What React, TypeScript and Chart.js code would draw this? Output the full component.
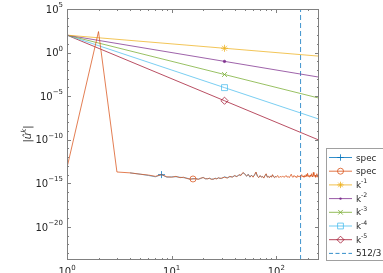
import React, { useEffect, useRef } from 'react';
import { Chart, registerables } from 'chart.js';
Chart.register(...registerables);

const W = 383;
const H = 273;
const X_MIN = 1;
const X_MAX = 256;
const Y_MIN = 1.6e-24;
const Y_MAX = 1e5;

// reference power-law lines (value at k = 1, 32, 256)
const lineK = [1, 32, 256];
const kMinus1 = [100, 3.125, 0.390625];
const kMinus2 = [100, 0.09765625, 0.00152588];
const kMinus3 = [100, 0.00305176, 5.96046e-6];
const kMinus4 = [100, 9.53674e-5, 2.32831e-8];
const kMinus5 = [100, 2.98023e-6, 9.09495e-11];
const cutoffK = 512 / 3;

// orange spectrum (log10 of |u_k|)
const specK = [
  1, 2, 3, 4, 5, 6, 7, 8, 9, 10, 11, 12, 13, 14, 15, 16, 17, 18, 19, 20, 21, 22, 23, 24, 25, 26, 27, 28, 29, 30,
  32, 34, 36, 38, 40, 42, 44, 46, 48, 50, 52, 54, 56, 58, 60, 62, 64, 66, 68, 70, 72, 74, 76, 78, 80, 82, 84, 86, 88, 90, 92, 94, 96, 98, 100,
  103, 106, 109, 112, 115, 118, 121, 124, 127, 130, 133, 136, 139, 142, 145, 148, 151, 154, 157, 160, 163, 166, 169, 172, 175, 178, 181, 184, 187, 190, 193, 196, 199, 202, 205, 208, 211, 214, 217, 220, 223, 226, 229, 232, 235, 238, 241, 244, 247, 250, 253, 256,
];
const specLog = [
  -13.2, 2.41, -13.7, -13.8, -13.95, -14.05, -14.2, -14.0, -14.25, -14.3, -14.2, -14.35, -14.3, -14.45, -14.5, -14.5, -14.45, -14.55, -14.4, -14.35, -14.45, -14.5, -14.4, -14.55, -14.5, -14.45, -14.5, -14.35, -14.45, -14.4,
  -14.3, -14.4, -14.2, -14.3, -14.1, -14.25, -14.0, -14.1, -13.75, -13.95, -14.15, -14.0, -14.25, -14.1, -14.3, -14.0, -13.7, -14.2, -14.35, -14.1, -14.3, -14.2, -14.4, -14.1, -13.9, -14.3, -14.2, -14.35, -14.15, -14.3, -14.0, -14.25, -14.35, -14.2, -14.3,
  -14.1, -14.35, -14.2, -14.3, -14.15, -14.3, -14.25, -14.1, -14.3, -14.2, -14.35, -14.15, -13.95, -14.25, -14.3, -14.1, -14.25, -14.2, -14.35, -14.1, -14.25, -14.15, -14.3, -14.2, -14.0, -14.25, -14.15, -14.3, -14.1, -14.25, -14.0, -14.2, -13.85, -14.2, -14.1, -14.3, -14.05, -14.2, -13.9, -14.15, -14.25, -13.75, -14.1, -14.2, -14.05, -14.3, -14.15, -13.9, -14.25, -14.1, -14.35, -14.5,
];

// blue spectrum (log10), visible on k = 4..100
const blueK = [
  4, 5, 6, 7, 8, 9, 10, 11, 12, 13, 14, 15, 16, 17, 18, 19, 20, 21, 22, 23, 24, 25, 26, 27, 28, 29, 30,
  32, 34, 36, 38, 40, 42, 44, 46, 48, 50, 52, 54, 56, 58, 60, 62, 64, 66, 68, 70, 72, 74, 76, 78, 80, 82, 84, 86, 88, 90, 92, 94, 96, 98, 100,
];
const blueLog = [
  -13.8, -13.95, -14.1, -14.25, -14.0, -14.3, -14.25, -14.25, -14.3, -14.35, -14.4, -14.55, -14.45, -14.5, -14.5, -14.45, -14.3, -14.5, -14.45, -14.45, -14.5, -14.55, -14.4, -14.45, -14.4, -14.4, -14.45,
  -14.25, -14.35, -14.25, -14.25, -14.15, -14.2, -14.05, -14.05, -13.8, -13.9, -14.2, -13.95, -14.3, -14.05, -14.25, -14.05, -13.75, -14.15, -14.3, -14.15, -14.25, -14.25, -14.35, -14.15, -13.95, -14.25, -14.25, -14.3, -14.2, -14.25, -14.05, -14.2, -14.3, -14.25, -14.25,
];

const xMajor = [1, 10, 100];
const yMajorExp = [5, 0, -5, -10, -15, -20];
const legendLabels = ['spec', 'spec', 'k|-1', 'k|-2', 'k|-3', 'k|-4', 'k|-5', '512/3'];

const C_BLUE = '#0072BD';
const C_ORANGE = '#D95319';
const C_YELLOW = '#EDB120';
const C_PURPLE = '#7E2F8E';
const C_GREEN = '#77AC30';
const C_CYAN = '#4DBEEE';
const C_RED = '#A2142F';

const FONT = '"DejaVu Sans", sans-serif';
const TXT = '#262626';
const AX = '#808080';

function pts(ks: number[], vs: number[]) {
  return ks.map((k, i) => ({ x: k, y: vs[i] }));
}
function ptsLog(ks: number[], ls: number[]) {
  return ks.map((k, i) => ({ x: k, y: Math.pow(10, ls[i]) }));
}

function markerAt(idx: number, r: number) {
  return (c: any) => (c.dataIndex === idx ? r : 0);
}

function drawMarker(ctx: CanvasRenderingContext2D, kind: string, x: number, y: number, color: string) {
  ctx.save();
  ctx.strokeStyle = color;
  ctx.fillStyle = color;
  ctx.lineWidth = 0.8;
  ctx.beginPath();
  const r = 3.2;
  if (kind === 'plus' || kind === 'star') {
    ctx.moveTo(x - r, y); ctx.lineTo(x + r, y);
    ctx.moveTo(x, y - r); ctx.lineTo(x, y + r);
  }
  if (kind === 'x' || kind === 'star') {
    const d = r * 0.72;
    ctx.moveTo(x - d, y - d); ctx.lineTo(x + d, y + d);
    ctx.moveTo(x - d, y + d); ctx.lineTo(x + d, y - d);
  }
  if (kind === 'circle') ctx.arc(x, y, 3, 0, Math.PI * 2);
  if (kind === 'square') ctx.rect(x - 2.9, y - 2.9, 5.8, 5.8);
  if (kind === 'diamond') {
    ctx.moveTo(x - 3.5, y); ctx.lineTo(x, y - 3.5); ctx.lineTo(x + 3.5, y); ctx.lineTo(x, y + 3.5); ctx.closePath();
  }
  ctx.stroke();
  if (kind === 'dot') {
    ctx.beginPath(); ctx.arc(x, y, 1.2, 0, Math.PI * 2); ctx.fill();
  }
  ctx.restore();
}

function drawPow(ctx: CanvasRenderingContext2D, x: number, baseY: number, exp: number, align: string) {
  const base = `10px ${FONT}`;
  const sup = `7px ${FONT}`;
  const es = exp < 0 ? '\u2212' + String(-exp) : String(exp);
  ctx.font = base;
  const w1 = ctx.measureText('10').width;
  ctx.font = sup;
  const w2 = ctx.measureText(es).width;
  const tot = w1 + w2;
  const x0 = align === 'right' ? x - tot : x - tot / 2;
  ctx.textAlign = 'left';
  ctx.textBaseline = 'alphabetic';
  ctx.fillStyle = TXT;
  ctx.font = base;
  ctx.fillText('10', x0, baseY);
  ctx.font = sup;
  ctx.fillText(es, x0 + w1, baseY - 5.5);
}

const decorPlugin = {
  id: 'decor',
  afterDraw(chart: any) {
    const ctx: CanvasRenderingContext2D = chart.ctx;
    const { left, right, top, bottom } = chart.chartArea;
    const xs = chart.scales.x;
    const ys = chart.scales.y;
    ctx.save();
    // frame
    ctx.strokeStyle = AX;
    ctx.lineWidth = 1;
    ctx.strokeRect(Math.round(left) + 0.5, Math.round(top) + 0.5, Math.round(right - left) - 1, Math.round(bottom - top) - 1);
    // x ticks
    ctx.beginPath();
    for (let d = 1; d <= 100; d *= 10) {
      for (let m = 1; m <= 9; m++) {
        const v = d * m;
        if (v < X_MIN || v > X_MAX) continue;
        const px = Math.round(xs.getPixelForValue(v)) + 0.5;
        const len = m === 1 ? 4 : 2;
        ctx.moveTo(px, bottom); ctx.lineTo(px, bottom - len);
        ctx.moveTo(px, top); ctx.lineTo(px, top + len);
      }
    }
    // y ticks
    for (let e = -23; e <= 5; e++) {
      const py = Math.round(ys.getPixelForValue(Math.pow(10, e))) + 0.5;
      const len = e % 5 === 0 ? 4 : 2;
      ctx.moveTo(left, py); ctx.lineTo(left + len, py);
      ctx.moveTo(right, py); ctx.lineTo(right - len, py);
    }
    ctx.stroke();
    // tick labels
    yMajorExp.forEach((e) => {
      const py = ys.getPixelForValue(Math.pow(10, e));
      drawPow(ctx, left - 4, py + 3.6, e, 'right');
    });
    xMajor.forEach((v) => {
      const px = xs.getPixelForValue(v);
      drawPow(ctx, px, bottom + 15, Math.round(Math.log10(v)), 'center');
    });
    // y title |û^k|
    ctx.save();
    ctx.translate(31, 134);
    ctx.rotate(-Math.PI / 2);
    ctx.fillStyle = TXT;
    ctx.textBaseline = 'alphabetic';
    ctx.font = `10px ${FONT}`;
    const bar = '|';
    const wb = ctx.measureText(bar).width;
    ctx.font = `italic 10px ${FONT}`;
    const wu = ctx.measureText('\u00fb').width;
    ctx.font = `italic 7px ${FONT}`;
    const wk = ctx.measureText('k').width;
    let x0 = -(wb * 2 + wu + wk) / 2;
    ctx.font = `10px ${FONT}`;
    ctx.fillText(bar, x0, 0); x0 += wb;
    ctx.font = `italic 10px ${FONT}`;
    ctx.fillText('\u00fb', x0, 0); x0 += wu;
    ctx.font = `italic 7px ${FONT}`;
    ctx.fillText('k', x0, -5); x0 += wk;
    ctx.font = `10px ${FONT}`;
    ctx.fillText(bar, x0, 0);
    ctx.restore();
    // legend
    const lx = 326.5, ly = 148.5;
    ctx.fillStyle = '#ffffff';
    ctx.fillRect(lx, ly, 80, 112);
    ctx.strokeStyle = '#a0a0a0';
    ctx.lineWidth = 1;
    ctx.strokeRect(lx, ly, 80, 112);
    const colors = [C_BLUE, C_ORANGE, C_YELLOW, C_PURPLE, C_GREEN, C_CYAN, C_RED, C_BLUE];
    const kinds = ['plus', 'circle', 'star', 'dot', 'x', 'square', 'diamond', 'none'];
    legendLabels.forEach((lab, i) => {
      const y = 157.5 + i * 13.7;
      ctx.strokeStyle = colors[i];
      ctx.lineWidth = 0.8;
      ctx.setLineDash(i === 7 ? [4, 2.5] : []);
      ctx.beginPath();
      ctx.moveTo(329, y); ctx.lineTo(352, y);
      ctx.stroke();
      ctx.setLineDash([]);
      if (kinds[i] !== 'none') drawMarker(ctx, kinds[i], 340.5, y, colors[i]);
      ctx.fillStyle = TXT;
      ctx.textAlign = 'left';
      ctx.textBaseline = 'alphabetic';
      const parts = lab.split('|');
      ctx.font = `8.8px ${FONT}`;
      ctx.fillText(parts[0], 356, y + 3);
      if (parts[1]) {
        const w = ctx.measureText(parts[0]).width;
        ctx.font = `6.2px ${FONT}`;
        ctx.fillText(parts[1], 356 + w, y - 1.5);
      }
    });
    ctx.restore();
  },
};

export default function App() {
  const ref = useRef<HTMLCanvasElement>(null);
  useEffect(() => {
    if (!ref.current) return;
    const lw = 0.75;
    const lineDs = (label: string, vals: number[], color: string, style: string, r: number, fill: boolean) => ({
      label,
      data: pts(lineK, vals),
      borderColor: color,
      borderWidth: lw,
      pointStyle: style,
      pointRadius: markerAt(1, r),
      pointBorderColor: color,
      pointBackgroundColor: fill ? color : 'rgba(0,0,0,0)',
      pointBorderWidth: lw,
      tension: 0,
    });
    const chart = new Chart(ref.current, {
      type: 'line',
      data: {
        datasets: [
          {
            label: 'spec',
            data: ptsLog(specK, specLog),
            borderColor: C_ORANGE,
            borderWidth: lw,
            pointStyle: 'circle',
            pointRadius: markerAt(15, 3),
            pointBorderColor: C_ORANGE,
            pointBackgroundColor: 'rgba(0,0,0,0)',
            pointBorderWidth: lw,
            tension: 0,
          },
          {
            label: 'spec',
            data: ptsLog(blueK, blueLog),
            borderColor: 'rgba(0,114,189,0.75)',
            borderWidth: lw,
            pointStyle: 'cross',
            pointRadius: markerAt(4, 3.5),
            pointBorderColor: C_BLUE,
            pointBorderWidth: lw,
            tension: 0,
          },
          lineDs('k-1', kMinus1, C_YELLOW, 'star', 3.5, false),
          lineDs('k-2', kMinus2, C_PURPLE, 'circle', 1.2, true),
          lineDs('k-3', kMinus3, C_GREEN, 'crossRot', 3.5, false),
          lineDs('k-4', kMinus4, C_CYAN, 'rect', 4.2, false),
          lineDs('k-5', kMinus5, C_RED, 'rectRot', 3.6, false),
          {
            label: '512/3',
            data: [{ x: cutoffK, y: Y_MIN }, { x: cutoffK, y: Y_MAX }],
            borderColor: C_BLUE,
            borderWidth: lw,
            borderDash: [5, 3],
            pointRadius: 0,
          },
        ] as any,
      },
      options: {
        responsive: false,
        animation: false,
        devicePixelRatio: 1,
        layout: { padding: { left: 67, right: 64, top: 9, bottom: 13 } },
        scales: {
          x: { type: 'logarithmic', min: X_MIN, max: X_MAX, display: false },
          y: { type: 'logarithmic', min: Y_MIN, max: Y_MAX, display: false },
        },
        plugins: { legend: { display: false }, tooltip: { enabled: false } },
        events: [],
      } as any,
      plugins: [decorPlugin],
    });
    return () => chart.destroy();
  }, []);
  return (
    <div style={{ position: 'fixed', left: 0, top: 0, width: W, height: H, background: '#fff' }}>
      <canvas ref={ref} width={W} height={H} style={{ width: W, height: H, display: 'block' }} />
    </div>
  );
}
